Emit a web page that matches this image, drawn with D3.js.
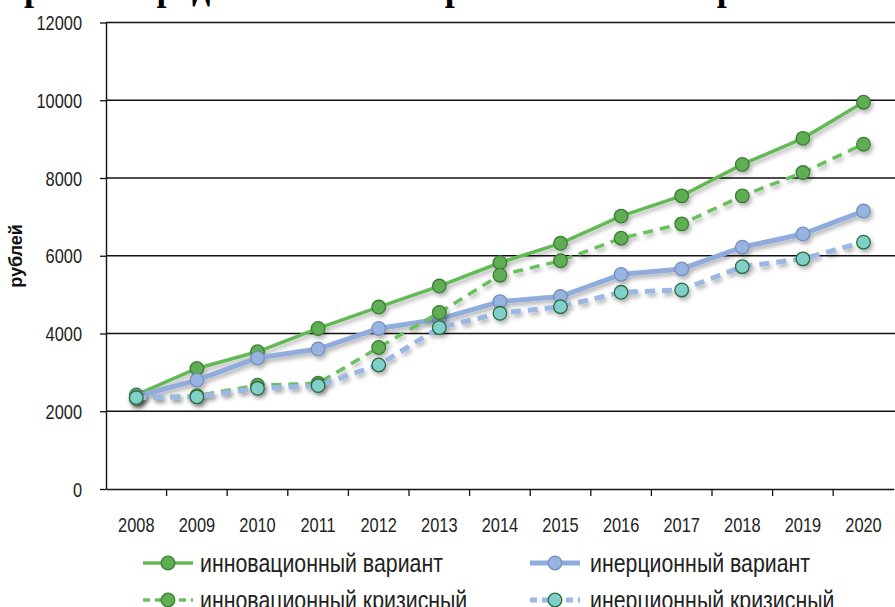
<!DOCTYPE html>
<html>
<head>
<meta charset="utf-8">
<script src="https://cdn.jsdelivr.net/npm/d3@7"></script>
<style>
  body { margin: 0; background: #fff; }
  svg { display: block; }
  text { font-family: "Liberation Sans", Arial, sans-serif; fill: #222; }
</style>
</head>
<body>
<svg id="chart" width="895" height="607"></svg>
<script>
var years = ["2008","2009","2010","2011","2012","2013","2014","2015","2016","2017","2018","2019","2020"];
var yTicks = [0, 2000, 4000, 6000, 8000, 10000, 12000];

var innovVariant  = [2420, 3100, 3530, 4130, 4680, 5220, 5820, 6320, 7020, 7540, 8350, 9020, 9950];
var inertVariant  = [2380, 2800, 3370, 3600, 4130, 4370, 4820, 4950, 5520, 5660, 6220, 6560, 7150];
var innovCrisis   = [2350, 2400, 2670, 2720, 3640, 4540, 5500, 5870, 6450, 6820, 7540, 8140, 8870];
var inertCrisis   = [2350, 2370, 2590, 2660, 3190, 4150, 4520, 4690, 5060, 5120, 5720, 5920, 6350];

var seriesNames = ["инновационный вариант", "инерционный вариант", "инновационный кризисный", "инерционный кризисный"];
var yTitle = "рублей";
var title = "Прогноз среднемесячной заработной платы работников по вариантам";

var series = [
  {name: seriesNames[0], values: innovVariant, line: "#63b957", width: 3.5, dash: null, fill: "#5fae52", stroke: "#3d7d36"},
  {name: seriesNames[1], values: inertVariant, line: "#90acdc", width: 5, dash: null, fill: "#96b3e2", stroke: "#7a8fb5"},
  {name: seriesNames[2], values: innovCrisis, line: "#6bbf5f", width: 3.5, dash: "10,7", fill: "#5fae52", stroke: "#3d7d36"},
  {name: seriesNames[3], values: inertCrisis, line: "#9bb7e3", width: 5, dash: "10,7", fill: "#7fcfcb", stroke: "#2e6a3a"}
];

var svg = d3.select("#chart");
var sx = 0.82; // text in the picture is a bit squeezed

var plotLeft = 106, plotRight = 895, plotTop = 22.5, plotBottom = 489;

var x = d3.scaleBand().domain(years).range([plotLeft, plotLeft + 13 * 60.6]);
var y = d3.scaleLinear().domain([0, 12000]).range([plotBottom, plotTop]);

var defs = svg.append("defs");
var f = defs.append("filter").attr("id", "shadow")
  .attr("x", "-10%").attr("y", "-10%").attr("width", "130%").attr("height", "140%");
f.append("feDropShadow").attr("dx", 2).attr("dy", 3).attr("stdDeviation", 2)
  .attr("flood-color", "#000").attr("flood-opacity", 0.3);

// cropped title at the very top, only descenders show
svg.append("text")
  .attr("x", -4).attr("y", 0)
  .style("font-family", "'Liberation Serif', 'Times New Roman', serif")
  .style("font-weight", "bold").style("font-size", "36px").style("fill", "#000")
  .text(title);

// gridlines
svg.append("g").selectAll("line").data(yTicks.slice(1)).enter().append("line")
  .attr("x1", plotLeft).attr("x2", plotRight)
  .attr("y1", function(d){ return y(d); }).attr("y2", function(d){ return y(d); })
  .attr("stroke", "#111").attr("stroke-width", 1.4);

// y axis
var yAxis = svg.append("g").attr("transform", "translate(" + plotLeft + ",0)")
  .call(d3.axisLeft(y).tickValues(yTicks).tickSize(6).tickSizeOuter(0).tickPadding(0).tickFormat(d3.format("d")));
yAxis.select(".domain").attr("stroke", "#111").attr("stroke-width", 1.4);
yAxis.selectAll(".tick line").attr("stroke", "#111").attr("stroke-width", 1.3);
yAxis.selectAll(".tick text")
  .attr("x", null).attr("dy", null)
  .attr("text-anchor", "end")
  .attr("transform", "translate(-24,7) scale(" + sx + ",1)")
  .style("font-size", "20px").style("fill", "#222");

// x axis
var xAxis = svg.append("g").attr("transform", "translate(0," + plotBottom + ")")
  .call(d3.axisBottom(x).tickSize(0).tickPadding(0));
xAxis.select(".domain").attr("stroke", "#111").attr("stroke-width", 1.4);
xAxis.selectAll(".tick text")
  .attr("y", null).attr("dy", null)
  .attr("transform", "translate(0,43) scale(" + sx + ",1)")
  .style("font-size", "20px").style("fill", "#222");
svg.append("g").selectAll("line").data(years.slice(1)).enter().append("line")
  .attr("x1", function(d){ return x(d); }).attr("x2", function(d){ return x(d); })
  .attr("y1", plotBottom).attr("y2", plotBottom + 7)
  .attr("stroke", "#111").attr("stroke-width", 1.3);

// y title
svg.append("text")
  .attr("transform", "translate(22,256) rotate(-90)")
  .attr("text-anchor", "middle")
  .style("font-size", "18px").style("font-weight", "bold").style("fill", "#111")
  .text(yTitle);

// lines
var line = d3.line()
  .x(function(d, i){ return x(years[i]) + x.bandwidth() / 2; })
  .y(function(d){ return y(d); });

series.forEach(function(s){
  var g = svg.append("g").attr("filter", "url(#shadow)");
  g.append("path").datum(s.values)
    .attr("d", line)
    .attr("fill", "none")
    .attr("stroke", s.line)
    .attr("stroke-width", s.width)
    .attr("stroke-dasharray", s.dash);
  g.selectAll("circle").data(s.values).enter().append("circle")
    .attr("cx", function(d, i){ return x(years[i]) + x.bandwidth() / 2; })
    .attr("cy", function(d){ return y(d); })
    .attr("r", 6.8)
    .attr("fill", s.fill)
    .attr("stroke", s.stroke)
    .attr("stroke-width", 1.3);
});

// legend
var legendPos = [[143, 563], [530, 563], [143, 600], [530, 600]];
series.forEach(function(s, i){
  var p = legendPos[i];
  var g = svg.append("g").attr("transform", "translate(" + p[0] + "," + p[1] + ")");
  g.append("line").attr("x1", 0).attr("x2", 50).attr("y1", 0).attr("y2", 0)
    .attr("stroke", s.line).attr("stroke-width", s.width)
    .attr("stroke-dasharray", s.dash ? "7,5" : null);
  g.append("circle").attr("cx", 25).attr("cy", 0).attr("r", 6.8)
    .attr("fill", s.fill).attr("stroke", s.stroke).attr("stroke-width", 1.3);
  g.append("text")
    .attr("transform", "translate(" + (i % 2 ? 60 : 57) + ",9) scale(" + sx + ",1)")
    .style("font-size", "26px").style("fill", "#222")
    .text(s.name);
});
</script>
</body>
</html>
